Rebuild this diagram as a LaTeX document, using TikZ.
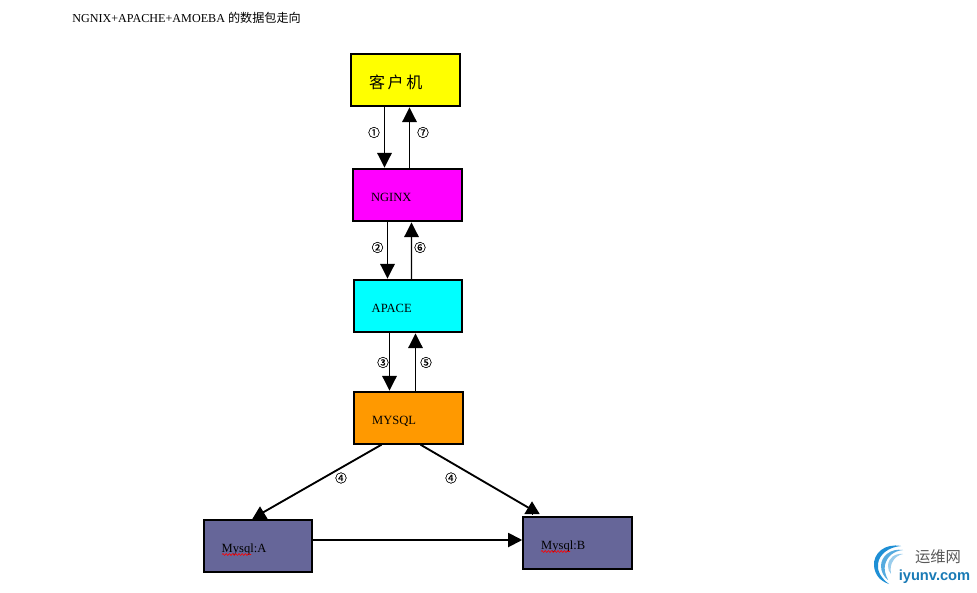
\documentclass[tikz,border=0pt]{standalone}
\usepackage{fontspec}
\setmainfont{Liberation Serif}
\newfontfamily\cjk{Noto Sans CJK SC}
\newfontfamily\markfont[FakeBold=0.6]{Noto Sans CJK SC}
\newfontfamily\logofont{Liberation Sans}
\usepackage{xcolor}
\usetikzlibrary{arrows.meta,decorations.pathmorphing}
\definecolor{yellowbox}{HTML}{FFFF00}
\definecolor{magentabox}{HTML}{FF00FF}
\definecolor{cyanbox}{HTML}{00FFFF}
\definecolor{orangebox}{HTML}{FF9900}
\definecolor{slatebox}{HTML}{666699}
\definecolor{logoblue}{HTML}{1E8FD5}
\tikzset{
  hostbox/.style={draw,line width=1.5pt,minimum height=38.5pt,text width=54.4pt,inner xsep=13.5pt,inner ysep=0pt,align=left,text height=9pt,text depth=0pt,font=\fontsize{9.4}{10}\selectfont},
  flowline/.style={line width=0.8pt,-{Triangle[width=11pt,length=11pt]},shorten >=0.6pt},
  branchline/.style={line width=1.4pt},
  branchtip/.style={line width=0pt,-{Triangle[width=11.5pt,length=9.5pt]}},
  stepmark/.style={inner sep=0pt,font=\markfont\fontsize{8.8}{10}\selectfont},
  spellmark/.style={red,line width=0.45pt,decorate,decoration={snake,amplitude=0.7pt,segment length=2.4pt}}
}
\begin{document}
\begin{tikzpicture}[x=0.75pt,y=-0.75pt]
\useasboundingbox (0,0) rectangle (977,592);
\node[anchor=west,inner sep=0pt,font=\fontsize{9.1}{10}\selectfont] (title) at (72,18) {NGNIX+APACHE+AMOEBA {\cjk 的数据包走向}};
\node[hostbox,fill=yellowbox,text height=12.8pt,font=\cjk\fontsize{12}{14}\selectfont] (client) at (405.3,80) {客\hspace{2pt}户\hspace{2pt}机};
\node[hostbox,fill=magentabox] (nginx) at (407.3,195) {NGINX};
\node[hostbox,fill=cyanbox] (apace) at (408,306) {APACE};
\node[hostbox,fill=orangebox] (mysql) at (408.5,418) {MYSQL};
\node[hostbox,fill=slatebox] (mysqla) at (258,546) {Mysql:A};
\node[hostbox,fill=slatebox] (mysqlb) at (577.5,543) {Mysql:B};
\draw[flowline] ([shift={(-20.8,0)}]client.south) -- ([shift={(-22.8,0)}]nginx.north);
\draw[flowline] ([shift={(2.2,0)}]nginx.north) -- ([shift={(4.2,0)}]client.south);
\draw[flowline] ([shift={(-19.8,0)}]nginx.south) -- ([shift={(-20.5,0)}]apace.north);
\draw[flowline] ([shift={(3.5,0)}]apace.north) -- ([shift={(4.2,0)}]nginx.south);
\draw[flowline] ([shift={(-18.5,0)}]apace.south) -- ([shift={(-19,0)}]mysql.north);
\draw[flowline] ([shift={(7,0)}]mysql.north) -- ([shift={(7.5,0)}]apace.south);
\coordinate (joina) at (262,513);
\coordinate (joinb) at (529,508);
\draw[branchline] ([shift={(-27,0)}]mysql.south) -- (joina);
\draw[branchline] ([shift={(12,0)}]mysql.south) -- (joinb);
\draw[branchtip] ([shift={(2,-1)}]mysqla.north) -- ++(0,-12);
\draw[branchtip] ([shift={(-45.5,-3)}]mysqlb.north) -- ++(0,-12);
\draw[branchline,-{Triangle[width=10.5pt,length=10.5pt]}] ([shift={(0,-6)}]mysqla.east) -- ([shift={(0,-3)}]mysqlb.west);
\node[stepmark] (one) at (374,132.5) {①};
\node[stepmark] (seven) at (423,132.5) {⑦};
\node[stepmark] (two) at (377.5,247.5) {②};
\node[stepmark] (six) at (420,247.5) {⑥};
\node[stepmark] (three) at (383,362.5) {③};
\node[stepmark] (five) at (426,362.5) {⑤};
\node[stepmark] (foura) at (341,478) {④};
\node[stepmark] (fourb) at (451,478) {④};
\draw[spellmark] ([shift={(-36,8.5)}]mysqla.center) -- ++(29,0);
\draw[spellmark] ([shift={(-36.5,8.5)}]mysqlb.center) -- ++(29,0);
\fill[logoblue] (901,546) .. controls (885,543) and (873,553) .. (874,566) .. controls (875,575) and (880,581) .. (889,584) .. controls (881,578) and (877,571) .. (878,564) .. controls (879,554) and (889,547) .. (901,546);
\fill[logoblue!75] (903,550) .. controls (891,548) and (881,556) .. (881,566) .. controls (881,572) and (884,577) .. (888,580) .. controls (885,574) and (884,569) .. (885,565) .. controls (887,556) and (894,551) .. (903,550);
\fill[logoblue!45] (903,554) .. controls (895,553) and (888,558) .. (888,566) .. controls (888,569) and (889,572) .. (891,574) .. controls (890,568) and (891,564) .. (893,561) .. controls (895,557) and (899,555) .. (903,554);
\node[inner sep=0pt,text=black!65,font=\cjk\fontsize{11.5}{12}\selectfont] (logoname) at (938,557) {运维网};
\node[inner sep=0pt,text=logoblue!85!black,font=\logofont\bfseries\fontsize{11}{12}\selectfont] (logourl) at (934.5,577) {iyunv.com};
\end{tikzpicture}
\end{document}
